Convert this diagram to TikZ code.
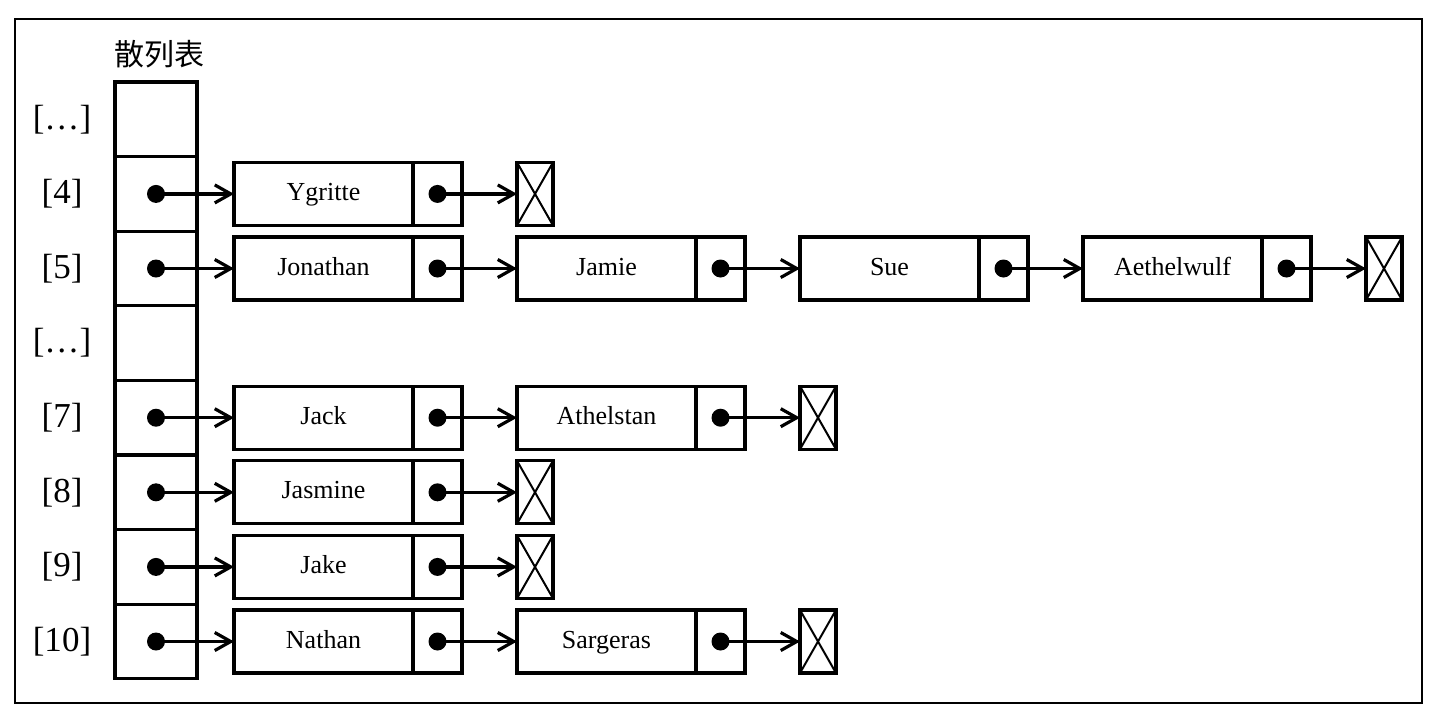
\documentclass[tikz,border=0pt]{standalone}
\usepackage{fontspec}
\setmainfont{Liberation Serif}
\newfontfamily\cjk{Noto Sans CJK SC}
\usetikzlibrary{positioning, arrows.meta}

\tikzset{
	slot/.style={draw, line width=1.6pt, minimum width=41pt, minimum height=37.3pt, inner sep=0pt, outer sep=0pt},
	namebox/.style={draw, line width=1.6pt, minimum width=89.5pt, minimum height=31.5pt, inner sep=0pt, outer sep=0pt,
		text height=0.66em, text depth=0pt, font=\fontsize{13}{15}\selectfont},
	ptrcell/.style={draw, line width=1.6pt, minimum width=24.5pt, minimum height=31.5pt, inner sep=0pt, outer sep=0pt},
	nullbox/.style={draw, line width=1.6pt, minimum width=18pt, minimum height=31.5pt, inner sep=0pt, outer sep=0pt,
		path picture={\draw[line width=1pt] (path picture bounding box.north west) -- (path picture bounding box.south east)
			(path picture bounding box.south west) -- (path picture bounding box.north east);}},
	dot/.style={circle, fill, inner sep=0pt, minimum size=9pt},
	link/.style={line width=1.6pt, -{Straight Barb[length=8pt, width=9pt]}},
	idx/.style={font=\fontsize{17.5}{20}\selectfont},
}

% one list element: name box, pointer cell and its dot
\newcommand{\drawItem}[3]{
	\node[namebox, #2] (#1) {#3};
	\node[ptrcell, right=0pt of #1] (#1p) {};
	\node[dot] (#1d) at (#1p.center) {};
}

\begin{document}
\begin{tikzpicture}

	\useasboundingbox (0,0) rectangle (719pt,-359pt);
	\draw[line width=1.3pt] (7.5pt,-9.5pt) rectangle (711pt,-351.5pt);

	\node[font=\cjk\fontsize{15}{18}\selectfont] (title) at (79.5pt,-27pt) {散列表};

	% the table
	\node[slot] (s1) at (78pt,-59.65pt) {};
	\foreach \i [count=\j from 2] in {1,...,7}
		\node[slot, below=0pt of s\i] (s\j) {};
	\foreach \lab [count=\i] in {{[\ldots]},{[4]},{[5]},{[\ldots]},{[7]},{[8]},{[9]},{[10]}}
		\node[idx] (l\i) at ([xshift=-47pt]s\i.center) {\lab};
	\foreach \i in {2,3,5,6,7,8}
		\node[dot] (d\i) at (s\i.center) {};

	% [4]
	\drawItem{ygritte}{right=18.5pt of s2}{Ygritte}
	\node[nullbox, right=27.5pt of ygrittep] (null4) {};

	% [5]
	\drawItem{jonathan}{right=18.5pt of s3}{Jonathan}
	\drawItem{jamie}{right=27.5pt of jonathanp}{Jamie}
	\drawItem{sue}{right=27.5pt of jamiep}{Sue}
	\drawItem{aethelwulf}{right=27.5pt of suep}{Aethelwulf}
	\node[nullbox, right=27.5pt of aethelwulfp] (null5) {};

	% [7]
	\drawItem{jack}{right=18.5pt of s5}{Jack}
	\drawItem{athelstan}{right=27.5pt of jackp}{Athelstan}
	\node[nullbox, right=27.5pt of athelstanp] (null7) {};

	% [8]
	\drawItem{jasmine}{right=18.5pt of s6}{Jasmine}
	\node[nullbox, right=27.5pt of jasminep] (null8) {};

	% [9]
	\drawItem{jake}{right=18.5pt of s7}{Jake}
	\node[nullbox, right=27.5pt of jakep] (null9) {};

	% [10]
	\drawItem{nathan}{right=18.5pt of s8}{Nathan}
	\drawItem{sargeras}{right=27.5pt of nathanp}{Sargeras}
	\node[nullbox, right=27.5pt of sargerasp] (null10) {};

	\draw[link] (d2.center) -- (ygritte.west);
	\draw[link] (ygritted.center) -- (null4.west);

	\draw[link] (d3.center) -- (jonathan.west);
	\draw[link] (jonathand.center) -- (jamie.west);
	\draw[link] (jamied.center) -- (sue.west);
	\draw[link] (sued.center) -- (aethelwulf.west);
	\draw[link] (aethelwulfd.center) -- (null5.west);

	\draw[link] (d5.center) -- (jack.west);
	\draw[link] (jackd.center) -- (athelstan.west);
	\draw[link] (athelstand.center) -- (null7.west);

	\draw[link] (d6.center) -- (jasmine.west);
	\draw[link] (jasmined.center) -- (null8.west);

	\draw[link] (d7.center) -- (jake.west);
	\draw[link] (jaked.center) -- (null9.west);

	\draw[link] (d8.center) -- (nathan.west);
	\draw[link] (nathand.center) -- (sargeras.west);
	\draw[link] (sargerasd.center) -- (null10.west);

\end{tikzpicture}
\end{document}
